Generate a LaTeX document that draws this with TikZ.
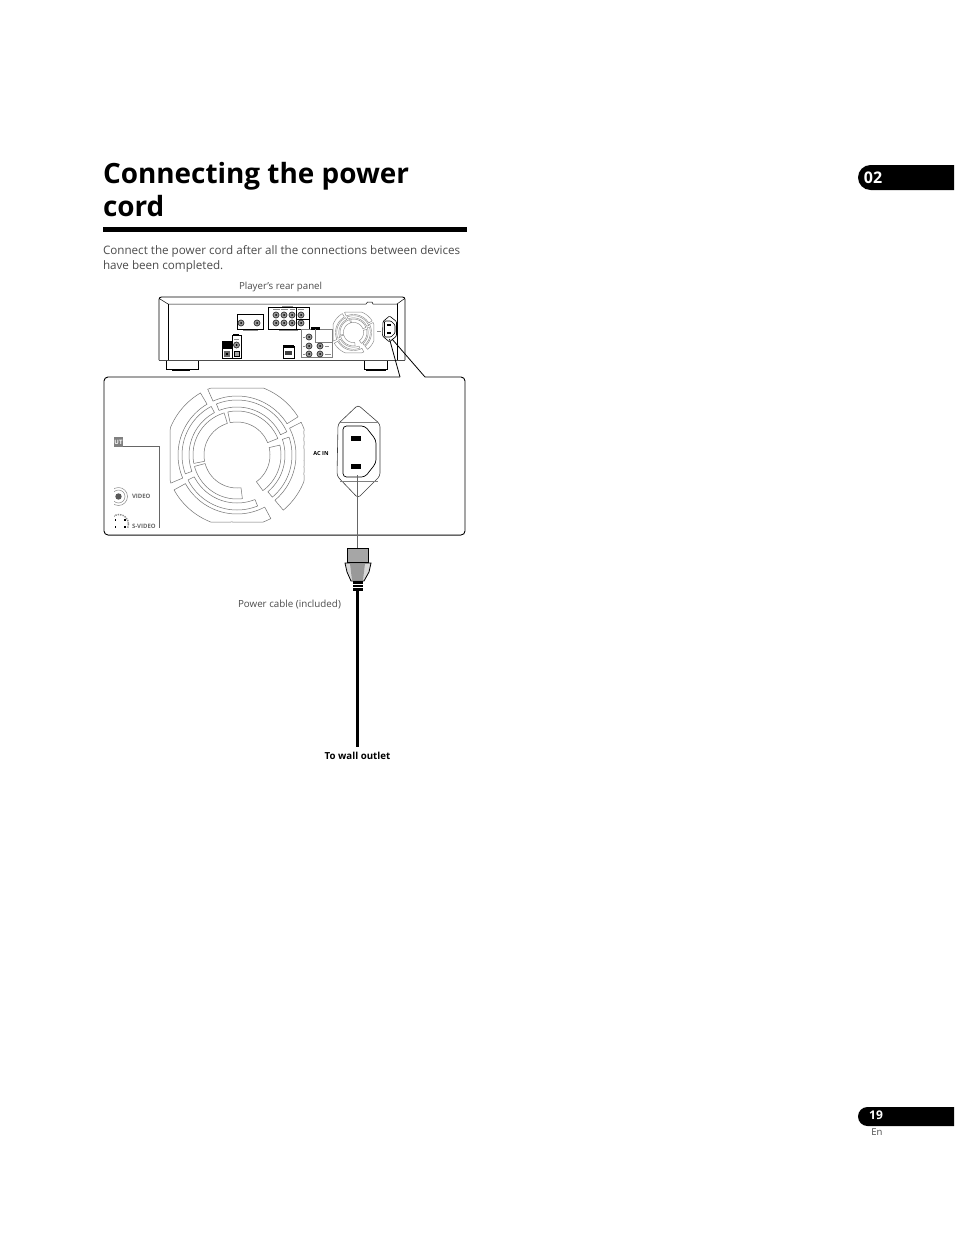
\documentclass[tikz,border=0pt]{standalone}
\usepackage{fontspec}
\setmainfont{Open Sans}
\tikzset{
 every node/.style={inner sep=0pt,outer sep=0pt},
 fanline/.style={draw=black!55,line width=0.5pt,line join=round},
 minibox/.style={draw=black,line width=0.8pt},
 thinbox/.style={draw=black!50,line width=0.5pt},
 jackmark/.style={draw=black!80,fill=black!40,line width=0.7pt},
 lbl/.style={text=black!70,font=\fontsize{9.8}{11}\selectfont,anchor=west},
 tab/.style={fill=black},
 tick/.style={draw=black!45,line width=0.6pt},
}
\newcommand{\fanseg}[4]{%
 \path[fanline] plot[domain=#3:#4,samples=28] (\x:{min(#1,67/max(abs(cos(\x)),abs(sin(\x))))})
   -- plot[domain=#4:#3,samples=28] (\x:#2) -- cycle;}
\newcommand{\fanall}{%
 \fanseg{72}{59}{246}{328}\fanseg{72}{59}{333}{410}\fanseg{72}{59}{422}{511}\fanseg{72}{59}{157}{239.5}%
 \fanseg{55}{48}{248}{335}\fanseg{55}{48}{341}{410}\fanseg{55}{48}{428}{513}\fanseg{55}{48}{160}{242}%
 \fanseg{44}{33}{258}{338}\fanseg{44}{33}{347}{414}\fanseg{44}{33}{443}{525}\fanseg{44}{33}{169}{253}}
\newcommand{\jack}[2]{\draw[jackmark] (#1,#2) circle (3); \fill[black] (#1,#2) circle (1);}
\begin{document}
\begin{tikzpicture}[x=1pt,y=1pt,yscale=-1]
\useasboundingbox (0,0) rectangle (954,1244);
\fill[white] (0,0) rectangle (954,1244);

% title
\node[anchor=base west,font=\fontsize{27.9}{30}\selectfont\bfseries] (title1) at (103,183) {Connecting the power};
\node[anchor=base west,font=\fontsize{27.9}{30}\selectfont\bfseries] (title2) at (103,216) {cord};
\fill[black] (103,227) rectangle (467,232);
\node[lbl,anchor=base west,font=\fontsize{11.65}{14}\selectfont] (body1) at (103,254) {Connect the power cord after all the connections between devices};
\node[lbl,anchor=base west,font=\fontsize{11.65}{14}\selectfont] (body2) at (103,269) {have been completed.};
\node[lbl,font=\fontsize{9.7}{11}\selectfont] (rear) at (239,287) {Player’s rear panel};

% side tabs
\fill[tab] (870.5,165) arc[start angle=-90,end angle=-270,radius=12.5] -- (954,190) -- (954,165) -- cycle;
\node[text=white,font=\fontsize{16}{18}\selectfont\bfseries] (ch) at (873,177.5) {02};
\fill[tab] (867.5,1107) arc[start angle=-90,end angle=-270,radius=9.5] -- (954,1126) -- (954,1107) -- cycle;
\node[text=white,font=\fontsize{12}{14}\selectfont\bfseries] (pg) at (876,1115.5) {19};
\node[text=black!70,font=\fontsize{9.5}{11}\selectfont] (en) at (877,1132.5) {En};

% player rear panel
\draw[black,line width=0.9pt,rounded corners=2.5] (159,360) -- (159,297) -- (405,297) -- (405,360);
\draw[black!70,line width=1.2pt] (159,360.5) -- (405,360.5);
\draw[black,line width=0.5pt] (160,299) -- (168,304) -- (366,304) -- (367.5,302) -- (372,302) -- (373,304) -- (397,304) -- (404,299);
\draw[black,line width=0.5pt] (168,304) -- (168,360);
\draw[black,line width=0.5pt] (397,304) -- (397,360);
% feet
\draw[black,line width=0.6pt] (166,361) -- (166,369.5) -- (198,369.5) -- (198,361);
\fill[black] (172,369) rectangle (190,370.5);
\draw[black,line width=0.6pt] (364,361) -- (364,369) -- (387,369) -- (387,361);
\fill[black] (366,369) rectangle (386,370.5);

% small fan
\begin{scope}[shift={(353.5,332.5)},scale=0.305]
 \tikzset{fanline/.style={draw=black!45,line width=0.45pt}}
 \fanall
\end{scope}

% panel terminals
\draw[minibox] (237,314) rectangle (263,329);
\jack{241}{323}\jack{257}{323}
\draw[tick] (243,329.8) -- (258,329.8);
\draw[minibox] (268,307) rectangle (309,329);
\draw[tick] (273,309.5) -- (280,309.5) (281,309.5) -- (288,309.5) (290,309.5) -- (295,309.5) (298,309.5) -- (304,309.5) (279,330) -- (298,330) (282,305.8) -- (293,305.8);
\foreach \a in {276,284,292,301}{\jack{\a}{315}\jack{\a}{323}}
\draw[black,line width=0.7pt] (296.5,307) -- (296.5,329) (296.5,319) -- (309,319);
\draw[thinbox] (301,329) rectangle (332,357);
\fill[black] (311,327.3) rectangle (320,329.5);
\draw[black!50,line width=0.5pt] (315.5,329) -- (315.5,342) -- (332,342);
\jack{309}{337}\jack{309}{346}\jack{309}{354}\jack{320}{346}\jack{320}{354}
\draw[tick] (325,346) -- (329,346) (325,354) -- (331,354) (303,346) -- (305,346) (303,354) -- (305,354) (303,337) -- (305,337);
\draw[minibox] (283,346) rectangle (294,358);
\fill[black] (283,344.5) rectangle (294,348);
\fill[black!75] (285,351) rectangle (292,355);
\draw[minibox] (222,341) rectangle (232,358);
\fill[black] (222,341) rectangle (232,349);
\fill[black!60] (224,351) rectangle (230,356.5);
\fill[black] (226,352.7) rectangle (228,354.7);
\draw[minibox] (232,335) rectangle (241,358);
\fill[black] (233,334) rectangle (239,336);
\jack{236.5}{345}
\draw[black,fill=black!35,line width=0.6pt] (234,351.5) rectangle (239.5,356);
\draw[tick] (234,339) -- (239,339);
% small inlet
\draw[black,line width=0.6pt,rounded corners=1] (389.5,316) -- (383,321.5) -- (382.5,336) -- (389.5,342) -- (396.5,336) -- (396.5,321.5) -- cycle;
\draw[black,fill=white,line width=0.6pt,rounded corners=1] (384.5,321) -- (391,321) -- (395,325) -- (395,333) -- (391,337) -- (384.5,337) -- cycle;
\fill[black] (387,324) rectangle (391,326);
\fill[black] (387,332) rectangle (391,334);
\draw[tick] (377,331) -- (381,331);

% zoom leader lines + detail frame
\coordinate (lfoot) at (389.5,339);
\coordinate (rfoot) at (392,339);
\coordinate (fa) at (400,377);
\coordinate (fb) at (425,377);
\draw[black,line width=0.8pt] (lfoot) -- (fa);
\draw[black,line width=0.8pt] (rfoot) -- (fb);
\draw[black,line width=0.9pt,rounded corners=4] (fa) -- (104,377) -- (104,535) -- (465,535) -- (465,377) -- (fb);
\draw[black!60,line width=1.3pt] (108,535.2) -- (461,535.2);

% large fan
\begin{scope}[shift={(237,455)}]
 \fanall
\end{scope}

% OUT fragment
\fill[black!50] (114,437) rectangle (123,446.5);
\node[text=white,font=\fontsize{6}{7}\selectfont\bfseries] (outlbl) at (118.5,442) {UT};
\draw[black!60,line width=0.6pt] (123,446) -- (159,446) -- (159,528);
\begin{scope}
 \clip (114,430) rectangle (160,527.5);
 \draw[black!45,line width=0.5pt] (118.5,496.5) circle (9);
 \draw[black!45,line width=0.5pt] (118.5,496.5) circle (6.5);
 \fill[black!65] (118.5,496.5) circle (3.2);
 \draw[black!45,line width=1.4pt,densely dotted] (119,524) circle (9.5);
 \fill[black] (114.5,519) rectangle (116,521);
 \fill[black] (124,519) rectangle (125.5,521);
 \fill[black] (114.5,526) rectangle (116,528);
 \fill[black] (124,526) rectangle (125.5,528);
 \node[text=black!60,font=\fontsize{6}{7}\selectfont\bfseries,anchor=west] (vid) at (132,496.5) {VIDEO};
 \node[text=black!60,font=\fontsize{6}{7}\selectfont\bfseries,anchor=west] (svid) at (132,526) {S-VIDEO};
\end{scope}

% large inlet
\draw[black!75,line width=0.6pt,rounded corners=3] (358,405) -- (338,424) -- (337,476) -- (358,498) -- (380,476) -- (380,424) -- cycle;
\draw[black!50,line width=0.5pt] (340,422.5) -- (378,422.5) (340,481) -- (378,481);
\draw[black,fill=white,line width=0.7pt,rounded corners=3.5] (343,426) -- (365,426) -- (376,440) -- (376,463) -- (365,477) -- (343,477) -- cycle;
\fill[black] (351,436) rectangle (361,441);
\fill[black] (351,464) rectangle (361,469);
\node[text=black,font=\fontsize{5.6}{7}\selectfont\bfseries] (acin) at (321,453) {AC IN};

% plug and cable
\node[minimum width=21pt,minimum height=14pt,draw=black,fill=black!35,line width=0.8pt] (plug) at (357.5,555) {};
\draw[black,fill=black!15,line width=0.8pt] (345,563) -- (371,563) -- (369,572) -- (364,581) -- (351,581) -- (347,572) -- cycle;
\fill[black!40] (350,563.5) -- (365,563.5) -- (363,580) -- (352,580) -- cycle;
\fill[black] (352.5,581) rectangle (362.5,591);
\draw[white,line width=0.6pt] (352.5,584) -- (362.5,584) (352.5,587) -- (362.5,587);
\coordinate (cabletop) at (357.5,591);
\coordinate (cableend) at (357.5,747);
\coordinate (pintop) at (357.5,475);
\draw[black,line width=2.6pt] (cabletop) -- (cableend);
\draw[black!60,line width=0.9pt] (pintop) -- (plug.north);
\node[lbl] (cablelbl) at (238,604.5) {Power cable (included)};
\node[text=black,font=\fontsize{9.7}{11}\selectfont\bfseries] (wall) at (357.5,755.5) {To wall outlet};
\end{tikzpicture}
\end{document}
